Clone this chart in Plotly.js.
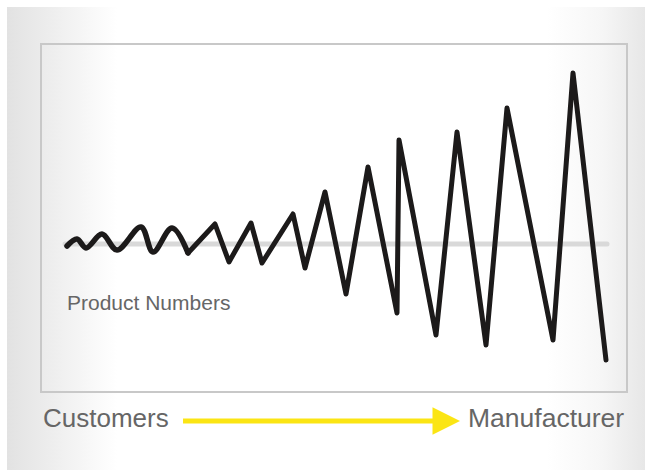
<!DOCTYPE html>
<html>
<head>
<meta charset="utf-8">
<script src="https://cdn.plot.ly/plotly-3.0.1.min.js"></script>
<style>
  html, body { margin: 0; padding: 0; background: #ffffff; }
  #wrap { position: relative; width: 645px; height: 470px; background: #ffffff; overflow: hidden; }
  #bg { position: absolute; left: 7px; top: 7px; width: 638px; height: 463px;
        background: linear-gradient(to right, #e2e2e2 0px, #efefef 50px, #ffffff 110px, #ffffff 540px, #f6f6f6 595px, #e7e7e7 638px); }
  #chart { position: absolute; left: 0; top: 0; width: 645px; height: 470px; }
  #chart path.js-line { stroke-linejoin: round; stroke-linecap: round; }
</style>
</head>
<body>
<div id="wrap"><div id="bg"></div><div id="chart"></div></div>
<script>
// Time steps along the supply chain (x) and order swing around the baseline (y)
var smoothTime  = [25, 35, 44, 60, 75, 99, 111, 130, 146];
var smoothSwing = [-2, 5, -4, 10, -6, 17, -8, 16, -9];
var sharpTime   = [146, 173, 187, 209, 220, 251, 263, 283, 304, 326, 355, 357, 394, 415, 444, 465, 511, 531, 564];
var sharpSwing  = [-9, 20, -18, 21, -19, 30, -24, 52, -50, 77, -69, 104, -91, 112, -101, 136, -96, 171, -116];
var baselineTime  = [23, 565];
var baselineValue = [0, 0];

var yAxisLabel = "Product Numbers";
var startLabel = "Customers";
var endLabel = "Manufacturer";

var traces = [
  { x: baselineTime, y: baselineValue, mode: "lines", line: { color: "#d9d9d9", width: 5 }, hoverinfo: "skip" },
  { x: smoothTime, y: smoothSwing, mode: "lines", line: { color: "#1c1a1a", width: 5.5, shape: "spline", smoothing: 1 }, hoverinfo: "skip" },
  { x: sharpTime, y: sharpSwing, mode: "lines", line: { color: "#1c1a1a", width: 5 }, hoverinfo: "skip" }
];

var layout = {
  width: 645, height: 470,
  margin: { l: 42, r: 19, t: 45, b: 79 },
  paper_bgcolor: "rgba(0,0,0,0)",
  plot_bgcolor: "rgba(0,0,0,0)",
  showlegend: false,
  xaxis: { range: [0, 584], showgrid: false, zeroline: false, showticklabels: false, ticks: "",
           showline: true, mirror: true, linecolor: "#c8c8c8", linewidth: 2, fixedrange: true },
  yaxis: { range: [-147, 199], showgrid: false, zeroline: false, showticklabels: false, ticks: "",
           showline: true, mirror: true, linecolor: "#c8c8c8", linewidth: 2, fixedrange: true },
  font: { family: "Liberation Sans, Arial, sans-serif" },
  annotations: [
    { text: yAxisLabel, xref: "paper", yref: "paper", x: 0.040, y: 0.257, xanchor: "left", yanchor: "middle",
      showarrow: false, font: { size: 21, color: "#666666" } },
    { text: startLabel, xref: "paper", yref: "paper", x: -0.002, y: -0.078, xanchor: "left", yanchor: "middle",
      showarrow: false, font: { size: 26, color: "#666666" } },
    { text: endLabel, xref: "paper", yref: "paper", x: 1.0, y: -0.078, xanchor: "right", yanchor: "middle",
      showarrow: false, font: { size: 26.5, color: "#666666" } },
    { text: " ", xref: "paper", yref: "paper", x: 0.7158, y: -0.0867, axref: "pixel", ayref: "pixel",
      ax: -280, ay: 0, showarrow: true, arrowhead: 2, arrowsize: 1.1, arrowwidth: 5, arrowcolor: "#fbe514",
      standoff: 0, startstandoff: 0 }
  ]
};

Plotly.newPlot("chart", traces, layout, { displayModeBar: false, staticPlot: true });
</script>
</body>
</html>
